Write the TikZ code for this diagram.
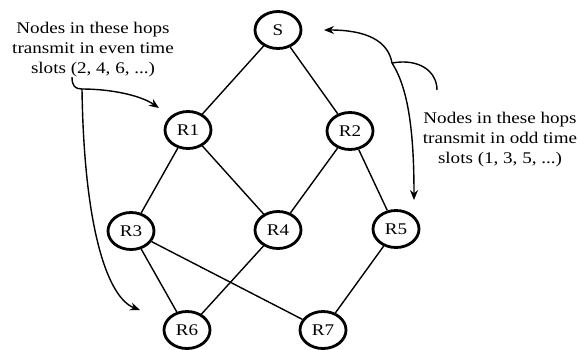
\documentclass[tikz,border=0pt]{standalone}
\usepackage{fontspec}
\setmainfont{Liberation Serif}
\usepackage{graphicx}
\usetikzlibrary{shapes.geometric,arrows.meta}

% text is set slightly wider than its natural shape
\newcommand\widetext[1]{\scalebox{1.17}[1]{#1}}
\newcommand\notelines[1]{\widetext{\begin{tabular}[t]{@{}c@{}}#1\end{tabular}}}

\begin{document}
\begin{tikzpicture}[x=1pt,y=-1pt,
  hop/.style={ellipse, draw, line width=2.8pt, minimum width=46pt,
    minimum height=37pt, inner sep=0pt, font=\fontsize{16.3}{20}\selectfont},
  link/.style={line width=1.4pt},
  pointer/.style={line width=1.4pt, -{Stealth[length=10pt,width=8pt]}},
  note/.style={font=\fontsize{16.3}{20}\selectfont, inner sep=0pt, anchor=base}]
\useasboundingbox (0,0) rectangle (578,349);

% relay tree
\node[hop] (S)  at (278,30)  {\widetext{S}};
\node[hop] (R1) at (188,130) {\widetext{R1}};
\node[hop] (R2) at (350,131) {\widetext{R2}};
\node[hop] (R3) at (131,231) {\widetext{R3}};
\node[hop] (R4) at (278,230) {\widetext{R4}};
\node[hop] (R5) at (396,229) {\widetext{R5}};
\node[hop] (R6) at (187,330) {\widetext{R6}};
\node[hop] (R7) at (323,330) {\widetext{R7}};

\draw[link] (S) -- (R1);
\draw[link] (S) -- (R2);
\draw[link] (R1) -- (R3);
\draw[link] (R1) -- (R4);
\draw[link] (R2) -- (R4);
\draw[link] (R2) -- (R5);
\draw[link] (R3) -- (R6);
\draw[link] (R3) -- (R7);
\draw[link] (R4) -- (R6);
\draw[link] (R5) -- (R7);

% annotations
\node[note] (even) at (93,33)
  {\notelines{Nodes in these hops\\transmit in even time\\slots (2, 4, 6, ...)}};
\node[note] (odd) at (500,123)
  {\notelines{Nodes in these hops\\transmit in odd time\\slots (1, 3, 5, ...)}};

% even-slot pointers
\coordinate (evenroot) at (72,77);
\coordinate (evenfork) at (82,89);
\coordinate (evenR1) at (159,108);
\coordinate (evenR6) at (140,310);
\draw[link] (evenroot) .. controls (72,86) and (75,89) .. (evenfork);
\draw[pointer] (evenfork) .. controls (110,89) and (140,95) .. (evenR1);
\draw[pointer] (evenfork) .. controls (84,230) and (108,298) .. (evenR6);

% odd-slot pointers
\coordinate (oddfork) at (392,63);
\coordinate (oddroot) at (437,90);
\coordinate (oddS) at (324,30);
\coordinate (oddR5) at (414,200);
\draw[link] (oddfork) .. controls (420,58) and (437,72) .. (oddroot);
\draw[pointer] (oddfork) .. controls (388,40) and (365,30) .. (oddS);
\draw[pointer] (oddfork) .. controls (408,88) and (414,130) .. (oddR5);
\end{tikzpicture}
\end{document}
